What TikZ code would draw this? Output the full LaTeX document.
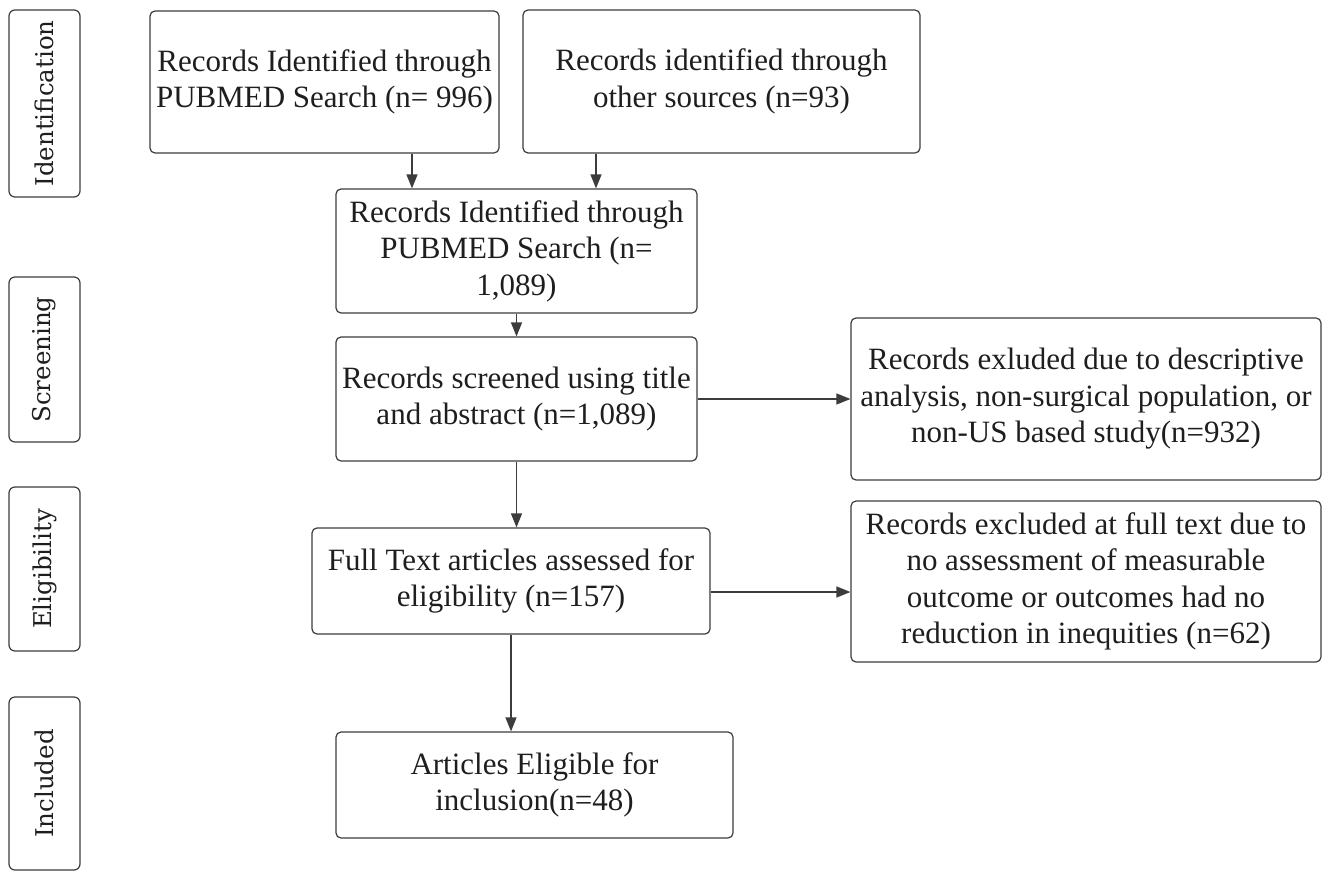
\documentclass[tikz,border=0pt]{standalone}
\usepackage{fontspec}
\setmainfont{Liberation Serif}
\newfontfamily\lblfont{DejaVu Serif}
\usetikzlibrary{arrows.meta,calc}
\definecolor{linegray}{HTML}{3C3C3C}
\definecolor{txt}{HTML}{1E1E1E}
\tikzset{
  box/.style={draw=linegray, line width=1.2pt, rounded corners=5pt, inner sep=0pt,
    align=center, text=txt, font=\fontsize{31pt}{36.5pt}\selectfont},
  lbl/.style={draw=linegray, line width=1.2pt, rounded corners=6pt, inner sep=0pt,
    text=txt, minimum width=71pt},
  lbltext/.style={text=txt, font=\lblfont\fontsize{24.5pt}{28pt}\selectfont, rotate=90, inner sep=0pt},
  arr/.style={draw=linegray, line width=1.3pt, -{Triangle[length=14pt,width=11pt]}}
}
\begin{document}
\begin{tikzpicture}[x=1pt,y=1pt]
\useasboundingbox (0,0) rectangle (1329,-872);
% stage labels
\node[lbl, minimum height=187pt] (lI) at (44.5,-103.5) {};
\node[lbltext] (tI) at (lI.center) {Identification};
\node[lbl, minimum height=165pt] (lS) at (44.5,-359.5) {};
\node[lbltext] (tS) at (lS.center) {Screening};
\node[lbl, minimum height=164pt] (lE) at (44.5,-569) {};
\node[lbltext] (tE) at (lE.center) {Eligibility};
\node[lbl, minimum height=173pt] (lN) at (44.5,-783.5) {};
\node[lbltext] (tN) at (lN.center) {Included};
% boxes
\node[box, minimum width=349pt, minimum height=142pt] (A) at (324.5,-82)
  {Records Identified through\\PUBMED Search (n= 996)};
\node[box, minimum width=397pt, minimum height=143pt] (B) at (721.5,-81.5)
  {Records identified through\\other sources (n=93)};
\node[box, minimum width=361pt, minimum height=124pt] (C) at (516.5,-251)
  {Records Identified through\\PUBMED Search (n=\\1,089)};
\node[box, minimum width=361pt, minimum height=124pt] (D) at (516.5,-399)
  {Records screened using title\\and abstract (n=1,089)};
\node[box, minimum width=398pt, minimum height=106pt] (E) at (511,-581)
  {Full Text articles assessed for\\eligibility (n=157)};
\node[box, minimum width=397pt, minimum height=106pt] (F) at (534.5,-785)
  {Articles Eligible for\\inclusion(n=48)};
\node[box, minimum width=470pt, minimum height=162pt] (G) at (1086,-399)
  {Records exluded due to descriptive\\analysis, non-surgical population, or\\non-US based study(n=932)};
\node[box, minimum width=470pt, minimum height=161pt] (H) at (1086,-581.5)
  {Records excluded at full text due to\\no assessment of measurable\\outcome or outcomes had no\\reduction in inequities (n=62)};
% connectors
\draw[arr] ([xshift=87.5pt]A.south) -- ([xshift=87.5pt]A.south |- C.north);
\draw[arr] ([xshift=-125.5pt]B.south) -- ([xshift=-125.5pt]B.south |- C.north);
\draw[arr] (C.south) -- (D.north);
\draw[arr] (D.south) -- (D.south |- E.north);
\draw[arr] (E.south) -- (E.south |- F.north);
\draw[arr] (D.east) -- (G.west);
\draw[arr] ([yshift=-11pt]E.east) -- ([yshift=-11pt]E.east -| H.west);
\end{tikzpicture}
\end{document}
